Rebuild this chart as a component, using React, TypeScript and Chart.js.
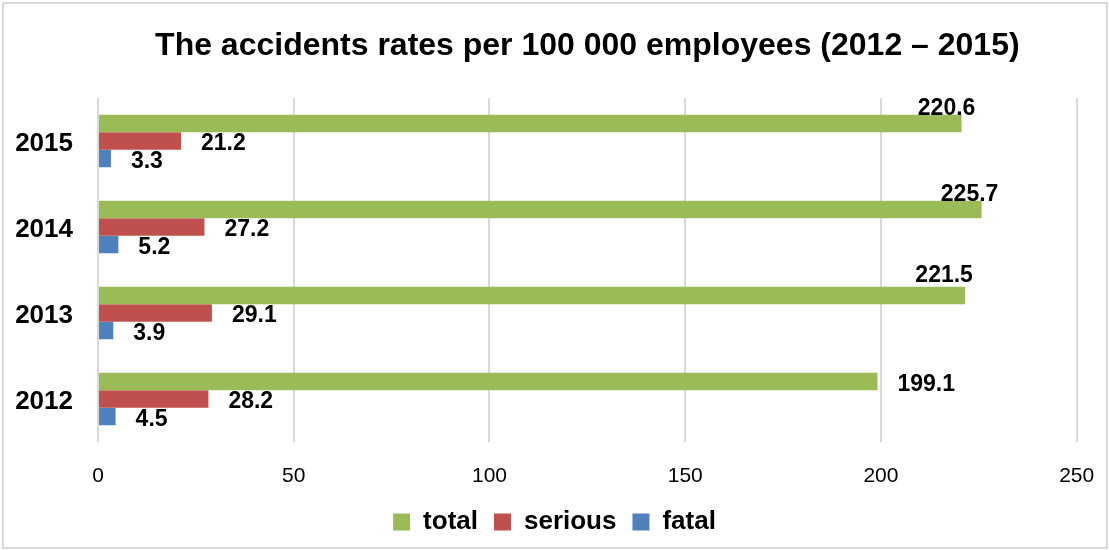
import React, { useEffect, useRef } from "react";
import { Chart, registerables } from "chart.js";

Chart.register(...registerables);

const years = ["2015", "2014", "2013", "2012"];
const totalRates = [220.6, 225.7, 221.5, 199.1];
const seriousRates = [21.2, 27.2, 29.1, 28.2];
const fatalRates = [3.3, 5.2, 3.9, 4.5];
const xTicks = [0, 50, 100, 150, 200, 250];
const titleText = "The accidents rates per 100 000 employees (2012 \u2013 2015)";

const FONT = "'Liberation Sans', Arial, Helvetica, sans-serif";

// hand-placed "total" labels in the source (offset from bar end / bar centre)
const totalLabelNudge: Record<number, [number, number]> = {
  0: [-15, -15],
  1: [-12, -15],
  2: [-21, -20],
};

const dataLabels = {
  id: "dataLabels",
  afterDatasetsDraw(chart: any) {
    const ctx = chart.ctx;
    ctx.save();
    ctx.font = `bold 23px ${FONT}`;
    ctx.fillStyle = "#000";
    ctx.textBaseline = "middle";
    chart.data.datasets.forEach((ds: any, di: number) => {
      const meta = chart.getDatasetMeta(di);
      meta.data.forEach((bar: any, i: number) => {
        const text = Number(ds.data[i]).toFixed(1);
        const nudge = di === 0 ? totalLabelNudge[i] : undefined;
        if (nudge) {
          ctx.textAlign = "center";
          ctx.fillText(text, bar.x + nudge[0], bar.y + nudge[1]);
        } else {
          ctx.textAlign = "left";
          ctx.fillText(text, bar.x + 20, bar.y + 3);
        }
      });
    });
    ctx.restore();
  },
};

const frame = {
  id: "frame",
  beforeDraw(chart: any) {
    const ctx = chart.ctx;
    ctx.save();
    ctx.fillStyle = "#fff";
    ctx.fillRect(0, 0, chart.width, chart.height);
    ctx.strokeStyle = "#d9d9d9";
    ctx.lineWidth = 2;
    ctx.strokeRect(3, 3, chart.width - 5, chart.height - 5);
    ctx.restore();
  },
};

export default function App() {
  const ref = useRef<HTMLCanvasElement | null>(null);

  useEffect(() => {
    if (!ref.current) return;
    const chart = new Chart(ref.current, {
      type: "bar",
      data: {
        labels: years,
        datasets: [
          { label: "total", data: totalRates, backgroundColor: "#9BBB59", borderWidth: 0 },
          { label: "serious", data: seriousRates, backgroundColor: "#C0504D", borderWidth: 0 },
          { label: "fatal", data: fatalRates, backgroundColor: "#4F81BD", borderWidth: 0 },
        ],
      },
      options: {
        indexAxis: "y",
        responsive: false,
        animation: false,
        devicePixelRatio: 1,
        datasets: { bar: { barPercentage: 1, categoryPercentage: 0.613 } },
        layout: { padding: { left: 0, right: 0, top: 0, bottom: 5 } },
        scales: {
          x: {
            min: 0,
            max: 250,
            afterBuildTicks: (scale: any) => {
              scale.ticks = xTicks.map((v) => ({ value: v }));
            },
            afterFit: (scale: any) => {
              scale.height = 51;
              scale.paddingLeft = 0;
              scale.paddingRight = 0;
            },
            ticks: { padding: 22, color: "#000", font: { size: 21, family: FONT } },
            grid: { color: "#d9d9d9", lineWidth: 2, drawTicks: false },
            border: { display: false },
          },
          y: {
            afterFit: (scale: any) => {
              scale.width = 98;
            },
            ticks: {
              padding: 25,
              labelOffset: 3,
              color: "#000",
              font: { size: 26, weight: "bold", family: FONT },
            },
            grid: { display: false, drawTicks: false },
            border: { display: false },
          },
          yRight: {
            type: "category",
            position: "right",
            display: true,
            afterFit: (scale: any) => {
              scale.width = 32.3;
            },
            ticks: { display: false },
            grid: { display: false, drawTicks: false },
            border: { display: false },
          },
        },
        plugins: {
          title: {
            display: true,
            text: titleText,
            fullSize: false,
            color: "#000",
            font: { size: 32, weight: "bold", family: FONT, lineHeight: 1.2 },
            padding: { top: 27, bottom: 32.6 },
          },
          legend: {
            position: "bottom",
            labels: {
              boxWidth: 17,
              boxHeight: 17,
              padding: 16,
              color: "#000",
              font: { size: 26, weight: "bold", family: FONT },
            },
          },
          tooltip: { enabled: false },
        },
      },
      plugins: [frame, dataLabels],
    } as any);
    return () => chart.destroy();
  }, []);

  return (
    <div style={{ position: "absolute", left: 0, top: 0, width: 1109, height: 550 }}>
      <canvas ref={ref} width={1109} height={550} style={{ display: "block" }} />
    </div>
  );
}
